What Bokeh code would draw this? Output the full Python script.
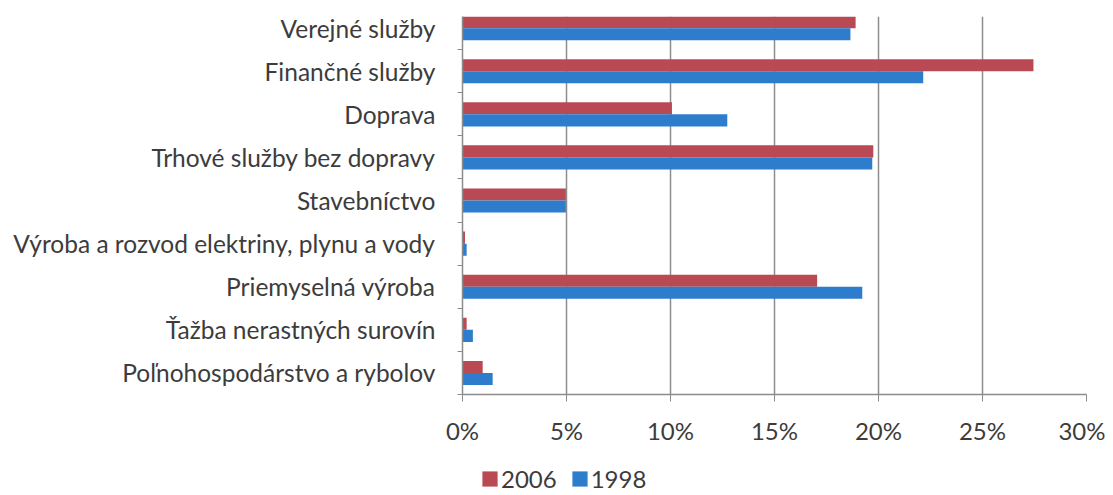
from bokeh.plotting import figure
from bokeh.layouts import column
from bokeh.models import Range1d, FixedTicker, PrintfTickFormatter, Legend, LegendItem, ColumnDataSource
from bokeh.transform import dodge
from bokeh.embed import file_html
from bokeh.resources import INLINE

# categories listed bottom-to-top
categories = [
    "Poľnohospodárstvo a rybolov",
    "Ťažba nerastných surovín",
    "Priemyselná výroba",
    "Výroba a rozvod elektriny, plynu a vody",
    "Stavebníctvo",
    "Trhové služby bez dopravy",
    "Doprava",
    "Finančné služby",
    "Verejné služby",
]
values_2006 = [0.97, 0.2, 17.05, 0.12, 4.97, 19.75, 10.07, 27.45, 18.9]
values_1998 = [1.45, 0.5, 19.22, 0.2, 4.97, 19.7, 12.73, 22.15, 18.65]
x_ticks = [0, 5, 10, 15, 20, 25, 30]
series = ["2006", "1998"]

FONT = "Lato"
TEXT = "#3C3C3C"
RED = "#B94A54"
BLUE = "#2E7DCC"
GRAY = "#8C8C8C"
W = 1105

ypos = list(range(len(categories)))
src = ColumnDataSource(dict(y=ypos, v06=values_2006, v98=values_1998))

p = figure(width=W, height=454, output_backend="svg", toolbar_location=None,
           x_range=Range1d(0, 30), y_range=Range1d(-0.5, 8.27),
           min_border_left=462, min_border_right=19, min_border_top=16, min_border_bottom=60)
p.outline_line_color = None

r06 = p.hbar(y=dodge("y", 0.14), right="v06", left=0, height=0.28, source=src,
             fill_color=RED, line_color=None)
r98 = p.hbar(y=dodge("y", -0.14), right="v98", left=0, height=0.28, source=src,
             fill_color=BLUE, line_color=None)

# x axis
p.xaxis.ticker = FixedTicker(ticks=x_ticks)
p.xaxis.formatter = PrintfTickFormatter(format="%d%%")
p.xaxis.major_label_text_font = FONT
p.xaxis.major_label_text_font_size = "24px"
p.xaxis.major_label_text_color = TEXT
p.xaxis.major_label_standoff = 14
p.xaxis.major_tick_out = 7
p.xaxis.major_tick_in = 0
p.xaxis.minor_tick_out = 0
p.xaxis.minor_tick_in = 0
p.xaxis.axis_line_color = GRAY
p.xaxis.axis_line_width = 1.5
p.xaxis.major_tick_line_color = GRAY

# y axis
p.yaxis.ticker = FixedTicker(ticks=ypos, minor_ticks=[k - 0.5 for k in range(len(categories) + 1)])
p.yaxis.major_label_overrides = {i: c for i, c in enumerate(categories)}
p.yaxis.major_label_text_font = FONT
p.yaxis.major_label_text_font_size = "24.5px"
p.yaxis.major_label_text_color = TEXT
p.yaxis.major_label_standoff = 22
p.yaxis.major_tick_out = 0
p.yaxis.major_tick_in = 0
p.yaxis.minor_tick_out = 5
p.yaxis.minor_tick_in = 0
p.yaxis.minor_tick_line_color = GRAY
p.yaxis.axis_line_color = GRAY
p.yaxis.axis_line_width = 1.5

# grid
p.ygrid.grid_line_color = None
p.xgrid.ticker = FixedTicker(ticks=x_ticks[1:])
p.xgrid.grid_line_color = GRAY
p.xgrid.grid_line_width = 1.5

# legend strip below the chart (its bars lie outside its visible range; only the legend shows)
lg = figure(width=W, height=41, output_backend="svg", toolbar_location=None,
            x_axis_location=None, y_axis_location=None,
            x_range=Range1d(100, 101), y_range=Range1d(100, 101),
            min_border_left=0, min_border_right=0, min_border_top=0, min_border_bottom=0)
lg.outline_line_color = None
lg.grid.grid_line_color = None
l06 = lg.hbar(y="y", right="v06", left=0, height=0.28, source=src, fill_color=RED, line_color=None)
l98 = lg.hbar(y="y", right="v98", left=0, height=0.28, source=src, fill_color=BLUE, line_color=None)

legend = Legend(items=[LegendItem(label=series[0], renderers=[l06]),
                       LegendItem(label=series[1], renderers=[l98])],
                orientation="horizontal", location=(18, 2))
legend.label_text_font = FONT
legend.label_text_font_size = "24px"
legend.label_text_color = TEXT
legend.glyph_width = 19
legend.glyph_height = 19
legend.label_standoff = 2
legend.spacing = 13
legend.padding = 0
legend.margin = 0
legend.border_line_color = None
legend.background_fill_alpha = 0
lg.add_layout(legend)

layout = column(p, lg, spacing=0)
open("out.html", "w").write(file_html(layout, INLINE))
